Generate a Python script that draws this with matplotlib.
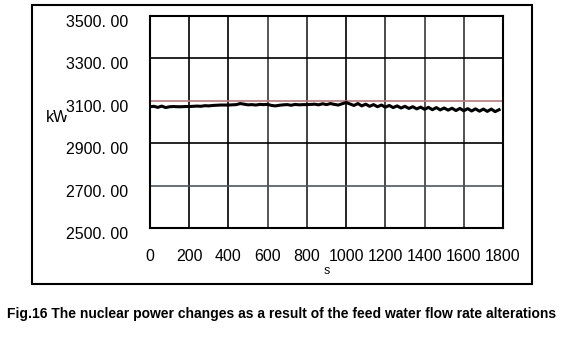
import matplotlib
matplotlib.use("Agg")
import matplotlib.pyplot as plt
import matplotlib.transforms as mtransforms
from matplotlib.patches import Rectangle

# time in s, sampled every 20 s
time_s = list(range(0, 1800, 20))

# nuclear power in kW
power_kw = [
    3072, 3074, 3069, 3075, 3068, 3072, 3073, 3072, 3072, 3073,
    3073, 3074, 3075, 3074, 3077, 3076, 3078, 3079, 3080, 3080,
    3080, 3081, 3082, 3087, 3084, 3081, 3082, 3080, 3083, 3082,
    3083, 3078, 3076, 3079, 3081, 3082, 3079, 3083, 3081, 3082,
    3082, 3083, 3084, 3081, 3086, 3082, 3087, 3083, 3080, 3086,
    3092, 3085, 3078, 3087, 3076, 3084, 3074, 3082, 3072, 3080,
    3070, 3078, 3068, 3076, 3066, 3074, 3064, 3072, 3062, 3070,
    3060, 3069, 3058, 3068, 3057, 3066, 3056, 3065, 3054, 3064,
    3053, 3063, 3052, 3062, 3051, 3061, 3050, 3061, 3049, 3058,
]

x_ticks = [0, 200, 400, 600, 800, 1000, 1200, 1400, 1600, 1800]
y_ticks = [2500, 2700, 2900, 3100, 3300, 3500]
y_labels = ["2500. 00", "2700. 00", "2900. 00", "3100. 00", "3300. 00", "3500. 00"]

x_grid_colors = ["#000000", "#000000", "#3a3a3a", "#222222", "#000000",
                 "#2a2a2a", "#3a3a3a", "#333333", "#3a3a3a"]
y_grid_colors = {2700: "#4a5866", 2900: "#000000", 3100: "#c07878", 3300: "#000000"}

plt.rcParams["font.family"] = ["Liberation Sans", "DejaVu Sans"]

fig = plt.figure(figsize=(5.75, 3.52), dpi=100)
W, H = 575, 352

# outer frame
fig.patches.append(Rectangle((32 / W, 1 - 284 / H), 500 / W, 279 / H,
                             transform=fig.transFigure, fill=False,
                             edgecolor="black", linewidth=1.5))

ax = fig.add_axes([150 / W, 1 - 228 / H, 353 / W, 212 / H])

for xv, c in zip(x_ticks[1:-1], x_grid_colors):
    ax.axvline(xv, color=c, linewidth=1.2, zorder=1)
for yv, c in y_grid_colors.items():
    ax.axhline(yv, color=c, linewidth=1.2, zorder=1)

ax.plot(time_s, power_kw, color="black", linewidth=2.2, zorder=3)

ax.set_xlim(0, 1800)
ax.set_ylim(2500, 3500)
ax.set_xticks(x_ticks)
ax.set_yticks(y_ticks)
ax.set_yticklabels(y_labels)
ax.tick_params(length=0, labelsize=11.5, colors="black")
ax.tick_params(axis="y", pad=16)
ax.tick_params(axis="x", pad=15)
for s in ax.spines.values():
    s.set_linewidth(1.5)

# y tick labels sit a little below their grid lines
offset = mtransforms.ScaledTranslation(0, -5 / 100, fig.dpi_scale_trans)
for lab in ax.get_yticklabels():
    lab.set_transform(lab.get_transform() + offset)
    lab.set_bbox(dict(facecolor="white", edgecolor="none", pad=0.5))

ax.text(46 / W, 1 - 118 / H, "kW", transform=fig.transFigure, fontsize=11.5,
        va="center", ha="left", zorder=1, clip_on=False)

fig.text(326 / W, 1 - 270 / H, "s", fontsize=9, family="DejaVu Serif",
         ha="center", va="center")

fig.text(7 / W, 1 - 314 / H,
         "Fig.16 The nuclear power changes as a result of the feed water flow rate alterations",
         fontsize=10, fontweight="bold", ha="left", va="center")

fig.savefig("out.png", dpi=100)
